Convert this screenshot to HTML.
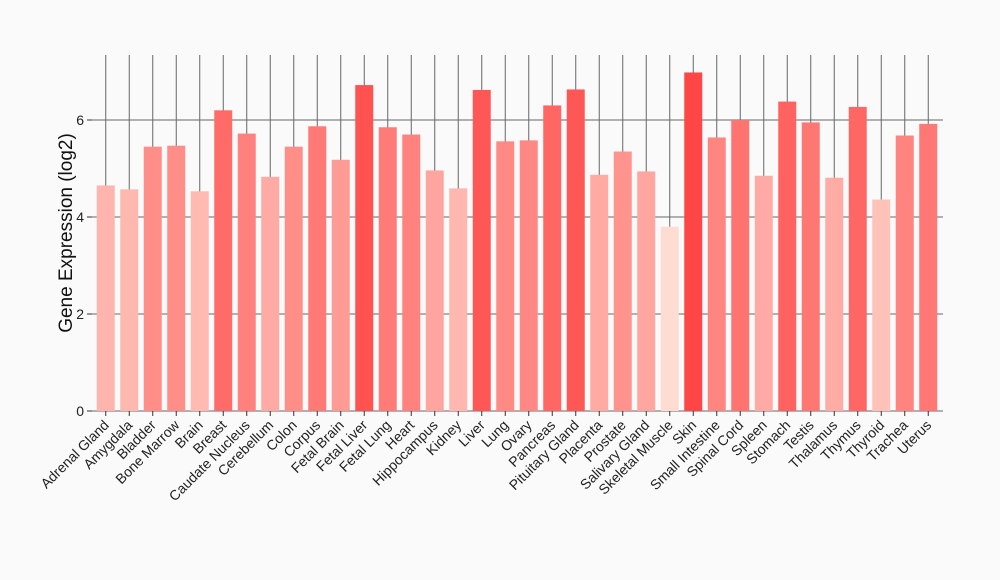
<!DOCTYPE html>
<html><head><meta charset="utf-8"><style>
html,body{margin:0;padding:0;background:#fafafa;}
svg{display:block;font-family:"Liberation Sans",Arial,sans-serif;}
</style></head><body>
<svg id="chart" width="1000" height="580" viewBox="0 0 1000 580">
<rect width="1000" height="580" fill="#fafafa"/>
<g id="grid"></g>
<g id="bars"></g>
<g id="yaxis"></g>
<g id="xaxis"></g>
<text transform="translate(72,233) rotate(-90)" text-anchor="middle" font-size="19" fill="#111">Gene Expression (log2)</text>
</svg>
<script>
const categories=["Adrenal Gland","Amygdala","Bladder","Bone Marrow","Brain","Breast","Caudate Nucleus","Cerebellum","Colon","Corpus","Fetal Brain","Fetal Liver","Fetal Lung","Heart","Hippocampus","Kidney","Liver","Lung","Ovary","Pancreas","Pituitary Gland","Placenta","Prostate","Salivary Gland","Skeletal Muscle","Skin","Small Intestine","Spinal Cord","Spleen","Stomach","Testis","Thalamus","Thymus","Thyroid","Trachea","Uterus"];
const values=[4.65,4.57,5.45,5.47,4.53,6.2,5.72,4.83,5.45,5.87,5.18,6.72,5.85,5.7,4.96,4.59,6.62,5.56,5.58,6.3,6.63,4.87,5.35,4.94,3.8,6.98,5.64,6.0,4.85,6.38,5.95,4.81,6.27,4.36,5.68,5.92];
const yTicks=[0,2,4,6];
const NS="http://www.w3.org/2000/svg";
const x0=94,x1=940,yBase=411,yPer=48.5,topY=55;
const step=(x1-x0)/categories.length;
const xc=i=>x0+step*(i+0.5);
const y=v=>yBase-v*yPer;
const vmin=Math.min(...values),vmax=Math.max(...values);
function col(v){const t=(v-vmin)/(vmax-vmin);const g=Math.round(220-150*t),b=Math.round(210-140*t);return `rgb(255,${g},${b})`;}
const grid=document.getElementById('grid'),bars=document.getElementById('bars'),ya=document.getElementById('yaxis'),xa=document.getElementById('xaxis');
function mk(tag,attrs,parent){const e=document.createElementNS(NS,tag);for(const k in attrs)e.setAttribute(k,attrs[k]);parent.appendChild(e);return e;}
yTicks.forEach(t=>{
  const l=mk('line',{x1:92,x2:943,y1:y(t),y2:y(t),stroke:'#666','stroke-width':1},grid);
  
  
  const tk=mk('line',{x1:87,x2:92,y1:y(t),y2:y(t),stroke:'#333'},ya);
  
  
  const tx=mk('text',{x:84,y:y(t)+5,'text-anchor':'end','font-size':14,fill:'#222'},ya);
  tx.textContent=t;
  
  
});
categories.forEach((c,i)=>{
  const g=mk('line',{x1:xc(i),x2:xc(i),y1:topY,y2:yBase,stroke:'#666','stroke-width':1},grid);
  
  
  const r=mk('rect',{x:xc(i)-9,y:y(values[i]),width:18,height:values[i]*yPer,fill:col(values[i])},bars);
  
  
  const tk=mk('line',{x1:xc(i),x2:xc(i),y1:yBase,y2:yBase+5,stroke:'#333'},xa);
  
  
  const tx=mk('text',{transform:`translate(${xc(i)+4},${yBase+15}) rotate(-45)`,'text-anchor':'end','font-size':14,fill:'#222'},xa);
  tx.textContent=c;
  
  
});
</script>
</body></html>
